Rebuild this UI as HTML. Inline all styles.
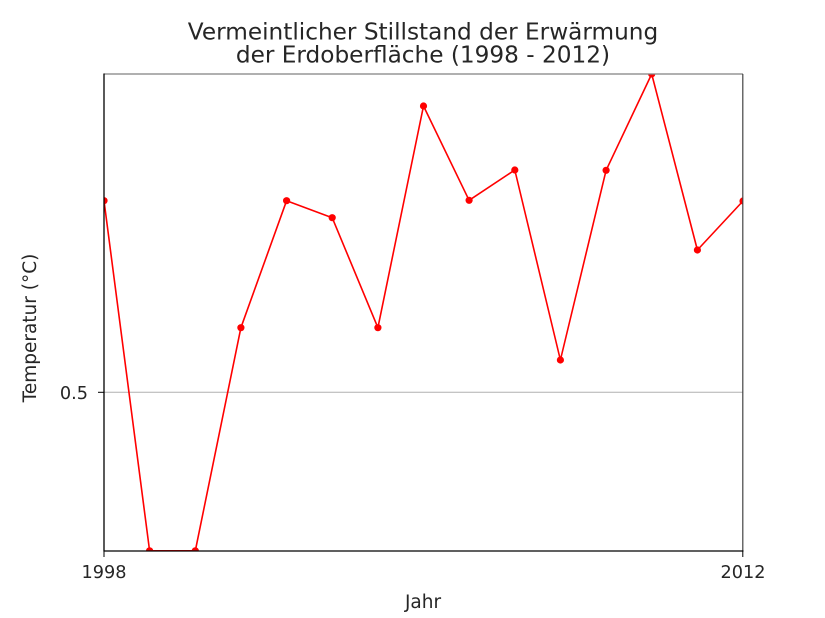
<!DOCTYPE html>
<html><head><meta charset="utf-8"><style>
html,body{margin:0;padding:0;background:#fff;}
svg{display:block;}
text{font-family:"DejaVu Sans","Liberation Sans",sans-serif;fill:#262626;}
</style></head><body>
<svg width="825" height="618" viewBox="0 0 825 618" xmlns="http://www.w3.org/2000/svg">
<defs><clipPath id="c"><rect x="104" y="74" width="639" height="477"/></clipPath></defs>
<rect width="825" height="618" fill="#fff"/>
<line x1="104" y1="392.3" x2="743" y2="392.3" stroke="#b0b0b0" stroke-width="1"/>
<g clip-path="url(#c)">
<polyline fill="none" stroke="#ff0000" stroke-width="1.6" stroke-linejoin="round" points="104,200.7 149.6,550.8 195.3,550.8 240.9,327.7 286.6,200.7 332.2,217.7 377.9,327.7 423.5,106 469.1,200.3 514.8,170 560.4,360 606.1,170.3 651.7,74 697.4,250 743,201"/>
<g fill="#ff0000">
<circle cx="104" cy="200.7" r="3.6"/><circle cx="149.6" cy="550.8" r="3.6"/><circle cx="195.3" cy="550.8" r="3.6"/><circle cx="240.9" cy="327.7" r="3.6"/><circle cx="286.6" cy="200.7" r="3.6"/><circle cx="332.2" cy="217.7" r="3.6"/><circle cx="377.9" cy="327.7" r="3.6"/><circle cx="423.5" cy="106" r="3.6"/><circle cx="469.1" cy="200.3" r="3.6"/><circle cx="514.8" cy="170" r="3.6"/><circle cx="560.4" cy="360" r="3.6"/><circle cx="606.1" cy="170.3" r="3.6"/><circle cx="651.7" cy="74" r="3.6"/><circle cx="697.4" cy="250" r="3.6"/><circle cx="743" cy="201" r="3.6"/>
</g>
</g>
<line x1="104" y1="74" x2="743" y2="74" stroke="#808080" stroke-width="1.2"/>
<line x1="742.8" y1="74" x2="742.8" y2="551" stroke="#444" stroke-width="1.2"/>
<line x1="104" y1="73.5" x2="104" y2="551.5" stroke="#000" stroke-width="1.3"/>
<line x1="103.5" y1="551" x2="743.5" y2="551" stroke="#000" stroke-width="1.3"/>
<line x1="98" y1="392.3" x2="104" y2="392.3" stroke="#000" stroke-width="1"/>
<line x1="104" y1="551" x2="104" y2="557" stroke="#000" stroke-width="1"/>
<line x1="742.8" y1="551" x2="742.8" y2="557" stroke="#000" stroke-width="1"/>
<text x="88" y="399" font-size="17.7" text-anchor="end">0.5</text>
<text x="104" y="578" font-size="17.7" text-anchor="middle">1998</text>
<text x="743" y="578" font-size="17.7" text-anchor="middle">2012</text>
<text x="423" y="608" font-size="18.5" text-anchor="middle">Jahr</text>
<text transform="translate(36,328) rotate(-90)" font-size="18.5" text-anchor="middle">Temperatur (°C)</text>
<text x="423" y="39.3" font-size="23.2" text-anchor="middle">Vermeintlicher Stillstand der Erwärmung</text>
<text x="423" y="62.7" font-size="23.2" text-anchor="middle">der Erdoberfläche (1998 - 2012)</text>
</svg>
</body></html>
